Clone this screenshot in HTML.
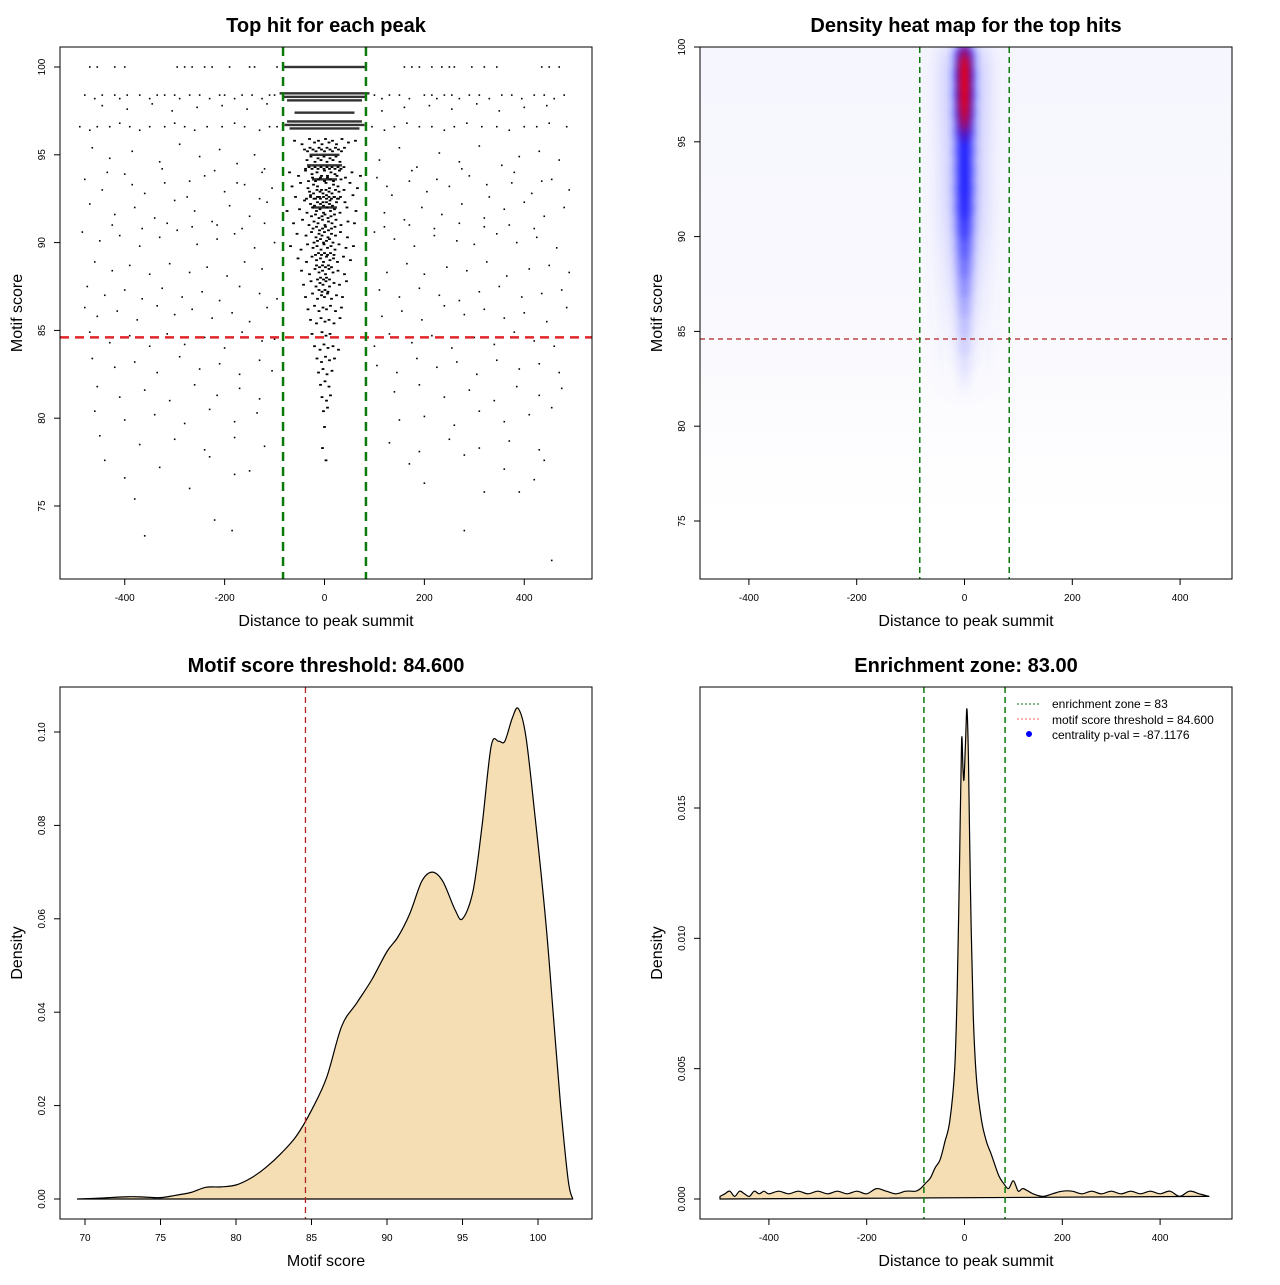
<!DOCTYPE html>
<html><head><meta charset="utf-8"><style>
html,body{margin:0;padding:0;background:#fff;}
svg text{font-family:"Liberation Sans",sans-serif;}
</style></head><body>
<svg id="root" width="1280" height="1280" xmlns="http://www.w3.org/2000/svg">
<defs>
<filter id="blur1" x="-50%" y="-50%" width="200%" height="200%"><feGaussianBlur stdDeviation="5"/></filter>
<filter id="blur2" x="-50%" y="-50%" width="200%" height="200%"><feGaussianBlur stdDeviation="4"/></filter>
<filter id="blur3" x="-50%" y="-50%" width="200%" height="200%"><feGaussianBlur stdDeviation="12"/></filter>
<clipPath id="clip2"><rect x="700" y="47" width="532" height="532"/></clipPath>
<linearGradient id="bgfade" x1="0" y1="0" x2="0" y2="1">
<stop offset="0" stop-color="#f6f6fe"/><stop offset="0.6" stop-color="#f9f9fe"/><stop offset="0.85" stop-color="#fdfdff"/><stop offset="1" stop-color="#ffffff"/>
</linearGradient>
</defs>
<g id="p1"></g>
<g id="p2"></g>
<g id="p3"></g>
<g id="p4"></g>
</svg>
<script>
// ---------- data ----------
const scatterBandScores = [100, 98.5, 98.3, 98.1, 97.4, 96.9, 96.7, 96.5, 95.0, 94.4, 93.6, 92.0];
const scatterBandHalfWidth = [85, 90, 85, 75, 60, 75, 80, 70, 30, 35, 25, 25];
const scatterOuterX = [-470,-455,-420,-400,-295,-280,-265,-240,-225,-190,-150,-140,-95,160,175,190,215,235,250,260,295,320,345,435,450,470,
 -480,-460,-445,-420,-410,-395,-370,-350,-335,-320,-300,-290,-270,-250,-230,-210,-200,-180,-165,-145,-125,-110,-100,100,115,130,150,170,200,215,225,240,255,270,290,310,330,355,375,395,420,440,460,480,
 -490,-470,-455,-430,-410,-390,-370,-350,-320,-300,-280,-260,-235,-205,-180,-160,-130,-110,-95,95,120,140,165,190,215,240,260,285,315,345,370,400,425,450,485,
 -465,-430,-385,-330,-290,-250,-210,-175,-140,-120,110,150,185,230,270,310,355,390,430,470,
 -480,-445,-400,-360,-320,-275,-240,-200,-160,-130,-105,105,135,170,205,250,290,330,375,415,455,490,
 -470,-420,-380,-340,-300,-260,-225,-190,-150,-115,120,160,195,235,275,320,360,400,440,480,
 -485,-450,-410,-370,-330,-295,-255,-215,-180,-140,-100,100,140,180,220,265,300,345,385,425,465,
 -460,-425,-390,-350,-310,-270,-235,-195,-160,-125,125,165,200,245,285,325,365,410,450,490,
 -475,-440,-400,-365,-325,-285,-245,-210,-170,-130,-95,110,150,190,230,270,310,350,395,435,475,
 -480,-455,-415,-375,-335,-300,-265,-225,-185,-150,-115,115,155,195,240,280,320,360,400,445,485,
 -470,-430,-390,-350,-315,-280,-240,-200,-165,-125,-100,100,130,175,215,255,300,340,380,420,460,
 -465,-420,-380,-335,-290,-250,-210,-170,-130,-105,105,145,185,225,265,305,345,390,430,470,
 -455,-410,-360,-310,-260,-215,-170,-130,140,190,240,290,340,385,430,475,
 -460,-400,-340,-280,-230,-180,-135,150,200,260,310,360,410,455,
 -450,-370,-300,-240,-180,-120,130,190,250,310,370,430,
 -440,-330,-230,-150,170,280,360,440,
 -400,-270,-180,200,320,420,
 -380,-220,280,390,
 -360,-185,455,
 -445,-395,-345,-305,-255,-205,-155,-115,115,160,210,255,305,350,400,445,
 -435,-385,-325,-270,-220,-175,-125,125,175,225,275,325,380,435,
 -425,-365,-315,-265,-215,-165,-120,120,170,220,270,320,370,420];
const scatterOuterY = [100,100,100,100,100,100,100,100,100,100,100,100,100,100,100,100,100,100,100,100,100,100,100,100,100,100,
 98.4,98.2,98.4,98.4,98.2,98.4,98.4,98.2,98.4,98.4,98.4,98.2,98.4,98.4,98.2,98.4,98.4,98.2,98.4,98.4,98.2,98.4,98.4,98.4,98.2,98.4,98.4,98.2,98.4,98.4,98.2,98.4,98.4,98.2,98.4,98.4,98.2,98.4,98.4,98.2,98.4,98.4,98.2,98.4,
 96.6,96.4,96.6,96.6,96.8,96.6,96.4,96.6,96.6,96.8,96.6,96.4,96.6,96.6,96.8,96.6,96.4,96.6,96.6,96.6,96.4,96.6,96.8,96.6,96.6,96.4,96.6,96.8,96.6,96.6,96.4,96.6,96.6,96.8,96.6,
 95.4,94.8,95.2,94.6,95.6,94.9,95.3,94.5,95.0,94.2,94.7,95.4,94.3,95.1,94.6,95.5,94.4,94.9,95.2,94.7,
 93.6,93.0,93.9,92.8,93.4,92.6,93.8,92.9,93.3,92.5,93.1,93.7,92.7,93.5,92.9,93.2,93.8,92.6,93.4,92.8,93.6,93.0,
 92.2,91.6,92.0,91.4,92.4,91.8,91.2,92.1,91.5,92.3,91.7,91.3,92.0,91.6,92.2,91.4,91.9,92.3,91.5,92.0,
 90.6,90.1,90.4,89.8,90.3,90.7,89.9,90.2,90.5,89.7,90.0,90.6,90.2,89.8,90.4,90.1,89.9,90.5,90.0,90.3,89.7,
 88.9,88.4,88.7,88.2,88.8,88.3,88.6,88.1,88.9,88.5,88.3,88.8,88.2,88.6,88.4,88.9,88.1,88.5,88.7,88.3,
 87.5,87.0,87.3,86.8,87.4,86.9,87.2,86.7,87.5,87.1,86.8,87.3,86.9,87.4,87.0,86.7,87.2,87.5,86.9,87.1,87.3,
 86.3,85.8,86.1,85.6,86.4,85.9,86.2,85.7,86.0,85.5,86.3,85.8,86.1,85.6,86.4,85.9,86.2,85.7,86.0,85.5,86.3,
 84.9,84.3,84.7,84.1,84.8,84.2,84.6,84.0,84.9,84.4,84.5,84.1,84.8,84.3,84.7,84.0,84.6,84.2,84.9,84.4,84.1,
 83.4,82.9,83.2,82.6,83.5,82.8,83.1,82.5,83.3,82.7,83.0,82.6,83.4,82.9,83.2,82.5,83.3,82.8,83.1,82.6,
 81.8,81.2,81.6,81.0,81.9,81.3,81.7,81.1,81.5,81.9,81.2,81.6,81.0,81.8,81.3,81.7,
 80.4,79.9,80.2,79.7,80.5,79.8,80.3,79.9,80.1,79.6,80.4,79.8,80.2,80.6,
 79.0,78.5,78.8,78.2,78.9,78.4,78.6,78.1,78.8,78.3,78.7,78.2,
 77.6,77.2,77.8,77.0,77.4,77.9,77.1,77.6,
 76.6,76.0,76.8,76.3,75.8,76.5,
 75.4,74.2,73.6,75.8,
 73.3,73.6,71.9,
 97.8,97.6,97.9,97.5,97.7,97.8,97.6,97.9,97.5,97.7,97.8,97.6,97.9,97.5,97.7,97.8,
 94.0,93.3,94.2,93.5,94.1,93.4,94.0,93.2,94.1,93.6,94.2,93.3,94.0,93.5,
 91.0,90.8,91.1,90.9,91.0,90.8,91.1,90.9,91.0,90.8,91.1,90.9,91.0,90.8];
const scatterCenterX = [-60,-45,-30,-20,-12,-5,2,9,16,24,35,48,62,-70,-52,-38,-25,-15,-8,0,6,13,21,30,42,55,72,-65,-48,-33,-22,-14,-6,3,10,18,27,39,51,66,
 -58,-40,-28,-18,-10,-3,4,11,19,28,41,57,-75,-50,-35,-24,-16,-9,-2,5,12,20,31,45,63,-62,-44,-31,-21,-13,-4,1,8,15,23,33,47,60,
 -55,-37,-26,-17,-11,-5,0,7,14,22,32,46,-68,-47,-34,-23,-15,-7,-1,6,13,21,29,43,58,-53,-36,-25,-16,-8,-2,4,11,18,26,38,52,
 -46,-30,-19,-11,-4,2,9,17,27,40,-42,-27,-17,-9,-3,3,10,19,30,44,-38,-24,-14,-6,0,6,14,24,36,-33,-20,-11,-3,4,12,22,34,
 -28,-16,-7,1,9,19,31,-25,-13,-5,3,11,21,-20,-9,-1,7,17,28,-15,-6,2,10,20,-12,-3,5,15,-8,1,9,-5,4,12,-2,6,0,-4,3,
 -35,-27,-19,-13,-7,-1,5,11,17,23,31,-32,-24,-18,-12,-6,0,6,12,18,25,33,-30,-22,-15,-9,-3,3,9,15,22,29,-28,-20,-14,-8,-2,4,10,16,24,-26,-18,-11,-5,1,7,13,20,
 -23,-16,-10,-4,2,8,14,21,-21,-14,-8,-2,4,10,17,-18,-12,-6,0,6,12,19,-16,-10,-4,2,8,14,-14,-8,-2,4,10,-11,-5,1,7,
 -40,-34,-29,-23,-17,-11,-6,0,5,11,16,22,28,34,40,-38,-31,-25,-19,-13,-7,-1,5,10,15,21,27,33,39,-36,-28,-21,-14,-8,-2,4,9,14,20,26,32];
const scatterCenterY = [95.8,95.6,95.9,95.7,95.8,95.6,95.9,95.7,95.8,95.6,95.9,95.7,95.8,94.0,93.8,94.1,93.9,94.0,93.7,94.1,93.8,94.0,93.9,94.1,93.7,94.0,93.8,93.2,93.4,93.1,93.3,93.2,93.0,93.4,93.1,93.3,93.2,93.0,93.4,93.1,
 92.6,92.4,92.7,92.5,92.6,92.3,92.7,92.4,92.6,92.5,92.3,92.7,91.8,91.9,91.7,92.0,91.8,91.9,91.7,92.0,91.8,91.9,91.7,92.0,91.8,91.1,91.3,91.0,91.2,91.1,91.3,91.0,91.2,91.1,91.3,91.0,91.2,91.1,
 90.5,90.4,90.6,90.3,90.5,90.4,90.6,90.3,90.5,90.4,90.6,90.3,89.8,89.6,89.9,89.7,89.8,89.6,89.9,89.7,89.8,89.6,89.9,89.7,89.8,89.1,88.9,89.2,89.0,89.1,88.9,89.2,89.0,89.1,88.9,89.2,89.0,
 88.4,88.2,88.5,88.3,88.4,88.2,88.5,88.3,88.4,88.2,87.6,87.8,87.5,87.7,87.6,87.8,87.5,87.7,87.6,87.8,86.9,87.1,86.8,87.0,86.9,87.1,86.8,87.0,86.9,86.2,86.4,86.1,86.3,86.2,86.4,86.1,86.3,
 85.6,85.4,85.7,85.5,85.6,85.4,85.7,84.8,84.6,84.9,84.7,84.8,84.6,84.1,83.9,84.2,84.0,84.1,83.9,83.4,83.2,83.5,83.3,83.4,82.6,82.8,82.5,82.7,81.9,82.1,81.8,81.2,81.0,81.3,80.4,80.6,79.5,78.3,77.6,
 94.7,94.9,94.6,94.8,94.7,94.9,94.6,94.8,94.7,94.9,94.6,93.5,93.7,93.5,93.6,93.8,93.5,93.7,93.6,93.5,93.8,93.6,92.9,92.8,93.0,92.9,92.8,93.0,92.9,92.8,93.0,92.9,92.2,92.1,92.3,92.2,92.1,92.3,92.2,92.1,92.3,91.5,91.6,91.4,91.5,91.6,91.4,91.5,91.6,
 90.8,90.9,90.7,90.8,90.9,90.7,90.8,90.9,90.0,90.1,90.2,90.0,90.1,90.2,90.0,89.3,89.4,89.3,89.4,89.3,89.4,89.3,88.7,88.6,88.7,88.6,88.7,88.6,87.9,88.0,87.9,88.0,87.9,87.3,87.2,87.3,87.2,
 95.3,95.2,95.4,95.3,95.2,95.4,95.3,95.2,95.4,95.3,95.2,95.4,95.3,95.2,95.4,94.2,94.3,94.2,94.3,94.2,94.3,94.2,94.3,94.2,94.3,94.2,94.3,94.2,94.3,92.5,92.6,92.5,92.6,92.5,92.6,92.5,92.6,92.5,92.6,92.5,92.6];

const heatLevels = [99.5,98.5,97.5,96.5,95.5,94.5,93.5,92.5,91.5,90.5,89.5,88.5,87.5,86.5,85.5,84.5,83.5,82.5];
const heatIntensity = [0.9,1.0,1.0,0.95,0.9,0.85,0.85,0.85,0.82,0.72,0.6,0.5,0.4,0.3,0.22,0.16,0.1,0.06];
const heatRedLevels = [99.3,98.8,98.2,97.6,97.0,96.4,95.8];
const heatRedIntensity = [0.7,1.0,1.0,1.0,0.9,0.7,0.35];

const scoreX = [69.5,71,73,74,75,76,77,78,79,80,81,82,83,84,85,86,87,88,89,90,90.7,91.5,92.3,93,93.7,94.5,95,95.7,96.3,96.9,97.4,97.8,98.3,98.7,99.2,99.8,100.5,101,101.5,102,102.3];
const scoreY = [0,0.0002,0.0005,0.0004,0.0003,0.0008,0.0014,0.0025,0.0026,0.003,0.0045,0.0068,0.0098,0.0135,0.019,0.026,0.037,0.042,0.047,0.053,0.056,0.061,0.068,0.070,0.068,0.062,0.060,0.066,0.080,0.097,0.098,0.098,0.103,0.105,0.099,0.082,0.060,0.040,0.020,0.004,0];

const distX = [-500,-490,-480,-470,-460,-450,-440,-430,-420,-410,-400,-380,-360,-340,-320,-300,-280,-260,-240,-220,-200,-180,-160,-140,-120,-100,-90,-80,-70,-60,-50,-40,-30,-20,-15,-10,-6,-3,-1,2,5,8,12,18,25,35,45,55,70,80,90,100,110,120,140,160,180,200,220,240,260,280,300,320,340,360,380,400,420,440,460,480,500];
const distY = [0.0001,0.0002,0.0003,0.0001,0.0003,0.0002,0.0001,0.0003,0.0002,0.0003,0.0002,0.0003,0.0002,0.0003,0.0002,0.0003,0.0002,0.0003,0.0002,0.0003,0.0002,0.0004,0.0003,0.0002,0.0003,0.0003,0.0004,0.0006,0.0008,0.0012,0.0015,0.0022,0.003,0.005,0.008,0.013,0.0176,0.0165,0.0161,0.0175,0.0188,0.017,0.012,0.007,0.0045,0.003,0.0022,0.0017,0.0009,0.0006,0.0004,0.0007,0.0003,0.0004,0.0002,0.0001,0.0002,0.0003,0.0003,0.0002,0.0003,0.0002,0.0003,0.0002,0.0003,0.0002,0.0003,0.0002,0.0003,0.0001,0.0003,0.0002,0.0001];

// ---------- helpers ----------
const NS="http://www.w3.org/2000/svg";
function mk(parent,tag,attrs,text){const e=document.createElementNS(NS,tag);for(const k in attrs)e.setAttribute(k,attrs[k]);if(text!==undefined)e.textContent=text;parent.appendChild(e);return e;}
function smoothPath(pts){
  let d=`M${pts[0][0].toFixed(1)},${pts[0][1].toFixed(1)}`;
  for(let i=0;i<pts.length-1;i++){
    const p0=pts[Math.max(0,i-1)],p1=pts[i],p2=pts[i+1],p3=pts[Math.min(pts.length-1,i+2)];
    const c1=[p1[0]+(p2[0]-p0[0])/6,p1[1]+(p2[1]-p0[1])/6];
    const c2=[p2[0]-(p3[0]-p1[0])/6,p2[1]-(p3[1]-p1[1])/6];
    d+=` C${c1[0].toFixed(1)},${c1[1].toFixed(1)} ${c2[0].toFixed(1)},${c2[1].toFixed(1)} ${p2[0].toFixed(1)},${p2[1].toFixed(1)}`;
  }
  return d;
}
function frame(g,x0,y0,w,h,title){
  const r=mk(g,'rect',{x:x0,y:y0,width:w,height:h,fill:'none',stroke:'#000','stroke-width':1});
  
  
  const t=mk(g,'text',{x:x0+w/2,y:y0-15,'text-anchor':'middle','font-size':20,'font-weight':'bold'},title);
  
  
}
function xTicks(g,vals,labels,sx,yb){
  vals.forEach((v,i)=>{const x=sx(v);mk(g,'line',{x1:x,x2:x,y1:yb,y2:yb+6,stroke:'#000'});
    const t=mk(g,'text',{x:x,y:yb+22,'text-anchor':'middle','font-size':10},labels[i]);
    
    });
  mk(g,'line',{x1:sx(vals[0]),x2:sx(vals[vals.length-1]),y1:yb,y2:yb,stroke:'#000'});
}
function yTicks(g,vals,labels,sy,xl){
  vals.forEach((v,i)=>{const y=sy(v);mk(g,'line',{x1:xl-6,x2:xl,y1:y,y2:y,stroke:'#000'});
    const t=mk(g,'text',{x:xl-15,y:y,'text-anchor':'middle','font-size':10,transform:`rotate(-90 ${xl-15} ${y})`},labels[i]);
    
    });
  mk(g,'line',{x1:xl,x2:xl,y1:sy(vals[0]),y2:sy(vals[vals.length-1]),stroke:'#000'});
}
function axisTitles(g,x0,y0,w,h,xt,yt){
  const a=mk(g,'text',{x:x0+w/2,y:y0+h+47,'text-anchor':'middle','font-size':16},xt);
  
  
  const yy=y0+h/2,xx=x0-38;
  const b=mk(g,'text',{x:xx,y:yy,'text-anchor':'middle','font-size':16,transform:`rotate(-90 ${xx} ${yy})`},yt);
  
  
}

// ---------- panel 1 ----------
(function(){
  const g=document.getElementById('p1');
  const sx=v=>324.5+v*0.4994, sy=v=>67+(100-v)*17.56;
  const bands=mk(g,'g',{});
  
  
  scatterBandScores.forEach((s,i)=>{
    const hw=scatterBandHalfWidth[i];
    mk(bands,'rect',{x:sx(-hw),y:sy(s)-1.2,width:sx(hw)-sx(-hw),height:2.4,fill:'#000','fill-opacity':0.8});
  });
  const pts=mk(g,'g',{});
  
  
  scatterOuterX.forEach((x,i)=>{mk(pts,'rect',{x:sx(x)-0.8,y:sy(scatterOuterY[i])-0.8,width:1.6,height:1.6,fill:'#000'});});
  scatterCenterX.forEach((x,i)=>{mk(pts,'rect',{x:sx(x)-1.4,y:sy(scatterCenterY[i])-0.9,width:2.8,height:1.8,fill:'#000'});});
  const th=mk(g,'line',{x1:60,x2:592,y1:sy(84.6),y2:sy(84.6),stroke:'#e0262a','stroke-width':2.5,'stroke-dasharray':'9,6'});
  
  
  [-83,83].forEach(v=>{const l=mk(g,'line',{x1:sx(v),x2:sx(v),y1:47,y2:579,stroke:'#0a7a0a','stroke-width':2.5,'stroke-dasharray':'9,6'});
    
    });
  frame(g,60,47,532,532,'Top hit for each peak');
  xTicks(g,[-400,-200,0,200,400],['-400','-200','0','200','400'],sx,579);
  yTicks(g,[75,80,85,90,95,100],['75','80','85','90','95','100'],sy,60);
  axisTitles(g,60,47,532,532,'Distance to peak summit','Motif score');
})();

// ---------- panel 2 ----------
(function(){
  const g=document.getElementById('p2');
  const sx=v=>964.5+v*0.539, sy=v=>47+(100-v)*18.96;
  const hm=mk(g,'g',{'clip-path':'url(#clip2)'});
  
  
  mk(hm,'rect',{x:700,y:47,width:532,height:470,fill:'url(#bgfade)'});
  const halo=mk(hm,'g',{filter:'url(#blur3)'});
  heatLevels.forEach((lv,i)=>{
    mk(halo,'ellipse',{cx:sx(0),cy:sy(lv),rx:22,ry:14,fill:'#6060ff','fill-opacity':heatIntensity[i]*0.35});
  });
  const bl=mk(hm,'g',{filter:'url(#blur1)'});
  heatLevels.forEach((lv,i)=>{
    const a=heatIntensity[i];
    mk(bl,'ellipse',{cx:sx(0),cy:sy(lv),rx:5+a*4,ry:13,fill:'#0000ff','fill-opacity':a});
  });
  const rl=mk(hm,'g',{filter:'url(#blur2)'});
  heatRedLevels.forEach((lv,i)=>{mk(rl,'ellipse',{cx:sx(0),cy:sy(lv),rx:6,ry:16,fill:'#f00','fill-opacity':heatRedIntensity[i]*0.7});});
  mk(g,'line',{x1:700,x2:1232,y1:sy(84.6),y2:sy(84.6),stroke:'#b22222','stroke-width':1.2,'stroke-dasharray':'5,4'});
  [-83,83].forEach(v=>{const l=mk(g,'line',{x1:sx(v),x2:sx(v),y1:47,y2:579,stroke:'#0a7a0a','stroke-width':1.5,'stroke-dasharray':'6,4'});
    
    });
  frame(g,700,47,532,532,'Density heat map for the top hits');
  xTicks(g,[-400,-200,0,200,400],['-400','-200','0','200','400'],sx,579);
  yTicks(g,[75,80,85,90,95,100],['75','80','85','90','95','100'],sy,700);
  axisTitles(g,700,47,532,532,'Distance to peak summit','Motif score');
})();

// ---------- panel 3 ----------
(function(){
  const g=document.getElementById('p3');
  const sx=v=>85+(v-70)*15.1, sy=v=>1199-v*4670;
  const pts=scoreX.map((x,i)=>[sx(x),sy(scoreY[i])]);
  const d=smoothPath(pts)+` L${sx(scoreX[0])},${sy(0)} Z`;
  const c=mk(g,'path',{d:d,fill:'#f5deb3',stroke:'#000','stroke-width':1.2,'stroke-linejoin':'round'});
  
  
  const l=mk(g,'line',{x1:sx(84.6),x2:sx(84.6),y1:687,y2:1219,stroke:'#b22222','stroke-width':1.3,'stroke-dasharray':'6,4'});
  
  
  frame(g,60,687,532,532,'Motif score threshold: 84.600');
  xTicks(g,[70,75,80,85,90,95,100],['70','75','80','85','90','95','100'],sx,1219);
  yTicks(g,[0,0.02,0.04,0.06,0.08,0.10],['0.00','0.02','0.04','0.06','0.08','0.10'],sy,60);
  axisTitles(g,60,687,532,532,'Motif score','Density');
})();

// ---------- panel 4 ----------
(function(){
  const g=document.getElementById('p4');
  const sx=v=>964.5+v*0.489, sy=v=>1199-v*26067;
  const pts=distX.map((x,i)=>[sx(x),sy(distY[i])]);
  const d=smoothPath(pts)+` L${sx(distX[0])},${sy(0)} Z`;
  const c=mk(g,'path',{d:d,fill:'#f5deb3',stroke:'#000','stroke-width':1.2,'stroke-linejoin':'round'});
  
  
  [-83,83].forEach(v=>{const l=mk(g,'line',{x1:sx(v),x2:sx(v),y1:687,y2:1219,stroke:'#0a7a0a','stroke-width':1.5,'stroke-dasharray':'6,4'});
    
    });
  frame(g,700,687,532,532,'Enrichment zone: 83.00');
  xTicks(g,[-400,-200,0,200,400],['-400','-200','0','200','400'],sx,1219);
  yTicks(g,[0,0.005,0.010,0.015],['0.000','0.005','0.010','0.015'],sy,700);
  axisTitles(g,700,687,532,532,'Distance to peak summit','Density');
  const lg=mk(g,'g',{});
  
  
  mk(lg,'line',{x1:1017,x2:1041,y1:704,y2:704,stroke:'#0a6a0a','stroke-dasharray':'2,2'});
  mk(lg,'text',{x:1052,y:708,'font-size':12},'enrichment zone = 83');
  mk(lg,'line',{x1:1017,x2:1041,y1:719,y2:719,stroke:'#f06060','stroke-dasharray':'2,2'});
  mk(lg,'text',{x:1052,y:724,'font-size':12},'motif score threshold = 84.600');
  mk(lg,'circle',{cx:1029,cy:734,r:3,fill:'#0000ff'});
  mk(lg,'text',{x:1052,y:739,'font-size':12},'centrality p-val = -87.1176');
})();
</script>
</body></html>
